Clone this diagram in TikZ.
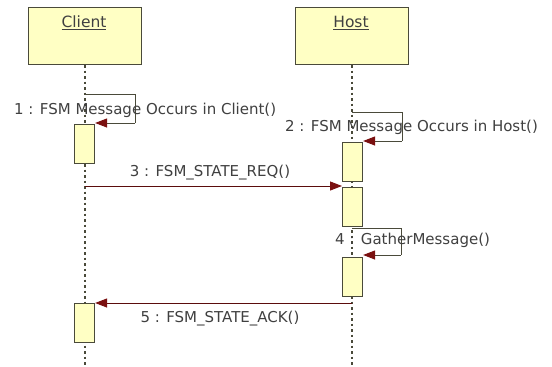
\documentclass[tikz,border=0pt]{standalone}
\usepackage{fontspec}
\setmainfont{DejaVu Sans}
\usetikzlibrary{arrows.meta}
\definecolor{boxfill}{HTML}{FFFFC4}
\definecolor{boxline}{HTML}{4A4A3A}
\definecolor{arr}{HTML}{7A1010}
\definecolor{txt}{HTML}{404040}
\begin{document}
\begin{tikzpicture}[x=1pt,y=-1pt,
  header/.style={draw=boxline,line width=1.1pt,fill=boxfill,minimum width=113pt,minimum height=57pt,inner sep=0pt,anchor=north west},
  act/.style={draw=boxline,line width=1.1pt,fill=boxfill,inner sep=0pt,anchor=north west,minimum width=20pt,minimum height=39pt},
  life/.style={draw=boxline,line width=1.1pt,dash pattern=on 2.5pt off 3pt},
  msg/.style={draw=arr!75!black,line width=1pt,-{Triangle[length=12pt,width=9pt,color=arr,fill=arr]}},
  selfret/.style={draw=boxline,line width=1pt,-{Triangle[length=12pt,width=9pt,color=arr,fill=arr]}},
  self/.style={draw=boxline,line width=1pt},
  lbl/.style={text=txt,font=\fontsize{15}{17}\selectfont,inner sep=0pt},
  hdr/.style={text=txt,font=\fontsize{15.5}{17}\selectfont,inner sep=0pt}]
\useasboundingbox (0,0) rectangle (552,367);
\fill[white] (0,0) rectangle (552,367);
% headers
\node[header] (client) at (28,7) {};
\node[header] (host) at (295,7) {};
\node[hdr] (clientlbl) at (84,23) {\underline{Client}};
\node[hdr] (hostlbl) at (351,23) {\underline{Host}};
% lifeline end coordinates
\coordinate (cend) at (85,367);
\coordinate (hend) at (352,367);
\draw[life] (client.south -| cend) -- (cend);
\draw[life] (host.south -| hend) -- (hend);
% activations
\node[act] (ca1) at (74,124) {};
\node[act] (ha1) at (342,142) {};
\node[act] (ha2) at (342,187) {};
\node[act] (ha3) at (342,257) {};
\node[act] (ca2) at (74,303) {};
% self message 1
\coordinate (s1a) at (85,94);
\coordinate (s1b) at (135,94);
\coordinate (s1c) at (135,123);
\draw[self] (s1a) -- (s1b) -- (s1c);
\draw[selfret] (s1c) -- (ca1.north east |- s1c);
\node[lbl,anchor=west] (l1) at (14,110) {1 : FSM Message Occurs in Client()};
% self message 2
\coordinate (s2a) at (352,112);
\coordinate (s2b) at (402,112);
\coordinate (s2c) at (402,141);
\draw[self] (s2a) -- (s2b) -- (s2c);
\draw[selfret] (s2c) -- (ha1.north east |- s2c);
\node[lbl,anchor=west] (l2) at (285,127) {2 : FSM Message Occurs in Host()};
% message 3
\coordinate (m3) at (85,186);
\draw[msg] (m3) -- (ha2.north west |- m3);
\node[lbl] (l3) at (210,173) {3 : FSM\_STATE\_REQ()};
% self message 4
\coordinate (s4a) at (352,228);
\coordinate (s4b) at (401,228);
\coordinate (s4c) at (401,255);
\draw[self] (s4a) -- (s4b) -- (s4c);
\draw[selfret] (s4c) -- (ha3.north east |- s4c);
\node[lbl,anchor=west] (l4) at (335,240) {4 : GatherMessage()};
% message 5
\coordinate (m5) at (352,303);
\draw[msg] (m5) -- (ca2.north east |- m5);
\node[lbl] (l5) at (220,319) {5 : FSM\_STATE\_ACK()};
\end{tikzpicture}
\end{document}
